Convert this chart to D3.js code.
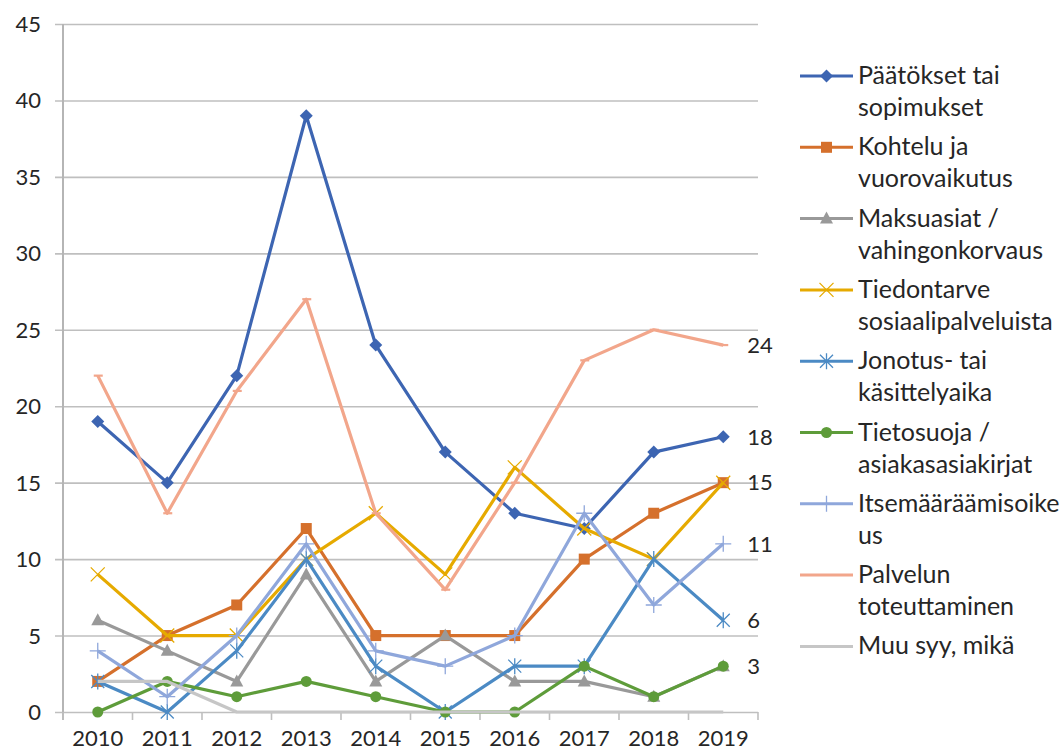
<!DOCTYPE html>
<html>
<head>
<meta charset="utf-8">
<script src="https://cdn.jsdelivr.net/npm/d3@7"></script>
<style>
  html, body { margin: 0; padding: 0; background: #fff; }
  svg { display: block; }
  text { font-family: Lato, "Open Sans", sans-serif; fill: #262626; }
</style>
</head>
<body>
<svg id="chart" width="1062" height="751"></svg>
<script>
// Yearly counts per complaint category
const years = ["2010", "2011", "2012", "2013", "2014", "2015", "2016", "2017", "2018", "2019"];
const yTicks = [0, 5, 10, 15, 20, 25, 30, 35, 40, 45];

const paatokset      = [19, 15, 22, 39, 24, 17, 13, 12, 17, 18];
const kohtelu        = [2, 5, 7, 12, 5, 5, 5, 10, 13, 15];
const maksuasiat     = [6, 4, 2, 9, 2, 5, 2, 2, 1, 3];
const tiedontarve    = [9, 5, 5, 10, 13, 9, 16, 12, 10, 15];
const jonotus        = [2, 0, 4, 10, 3, 0, 3, 3, 10, 6];
const tietosuoja     = [0, 2, 1, 2, 1, 0, 0, 3, 1, 3];
const itsemaaraamis  = [4, 1, 5, 11, 4, 3, 5, 13, 7, 11];
const palvelun       = [22, 13, 21, 27, 13, 8, 15, 23, 25, 24];
const muuSyy         = [2, 2, 0, 0, 0, 0, 0, 0, 0, 0];

const legendLabels = [
  ["Päätökset tai", "sopimukset"],
  ["Kohtelu ja", "vuorovaikutus"],
  ["Maksuasiat /", "vahingonkorvaus"],
  ["Tiedontarve", "sosiaalipalveluista"],
  ["Jonotus- tai", "käsittelyaika"],
  ["Tietosuoja /", "asiakasasiakirjat"],
  ["Itsemääräämisoike", "us"],
  ["Palvelun", "toteuttaminen"],
  ["Muu syy, mikä"]
];

// Series with the end value shown as a label at the right
const labelledSeries = [0, 1, 4, 5, 6, 7];

const series = [
  { values: paatokset,     color: "#3D65B2", marker: "diamond" },
  { values: kohtelu,       color: "#D5702C", marker: "square" },
  { values: maksuasiat,    color: "#999999", marker: "triangle" },
  { values: tiedontarve,   color: "#E6AA00", marker: "x" },
  { values: jonotus,       color: "#4B8AC4", marker: "star" },
  { values: tietosuoja,    color: "#5E9C3A", marker: "circle" },
  { values: itsemaaraamis, color: "#8FA7DB", marker: "plus" },
  { values: palvelun,      color: "#F2A68B", marker: "dash" },
  { values: muuSyy,        color: "#C6C6C6", marker: "none" }
].map((s, i) => ({ ...s, label: legendLabels[i] }));

const svg = d3.select("#chart");
const plotLeft = 63, plotRight = 758, plotTop = 24, plotBottom = 712;

const xBand = d3.scaleBand().domain(years).range([plotLeft, plotRight]).padding(0);
const x = d => xBand(d) + xBand.bandwidth() / 2;
const y = d3.scaleLinear().domain([0, 45]).range([plotBottom, plotTop]);

const gridColor = "#BFBFBF";

// Horizontal gridlines with outward tick stubs and value labels
const yAxis = svg.append("g")
  .attr("transform", `translate(${plotLeft},0)`)
  .call(d3.axisLeft(y).tickValues(yTicks).tickSize(-(plotRight - plotLeft)).tickPadding(0).tickFormat(d3.format("d")));
yAxis.select(".domain").remove();
yAxis.selectAll(".tick line")
  .attr("x1", -8)
  .attr("stroke", gridColor).attr("stroke-width", 1.6);
yAxis.selectAll(".tick text")
  .attr("x", -22).attr("dy", "0.34em")
  .style("font-size", "22px").style("fill", "#262626");

// Vertical axis line
svg.append("line")
  .attr("x1", plotLeft).attr("x2", plotLeft).attr("y1", plotTop).attr("y2", plotBottom + 8)
  .attr("stroke", "#B5B5B5").attr("stroke-width", 2);

// Category tick marks on band boundaries
const boundaries = years.map(d => xBand(d)).concat([plotRight]);
svg.append("g").selectAll("line").data(boundaries).join("line")
  .attr("x1", d => d).attr("x2", d => d)
  .attr("y1", plotBottom).attr("y2", plotBottom + 8)
  .attr("stroke", gridColor).attr("stroke-width", 1.6);

// Category labels
const xAxis = svg.append("g")
  .attr("transform", `translate(0,${plotBottom})`)
  .call(d3.axisBottom(xBand).tickSize(0).tickPadding(0));
xAxis.select(".domain").remove();
xAxis.selectAll(".tick text")
  .attr("y", 34).attr("dy", 0)
  .style("font-size", "22px").style("fill", "#262626");

// Marker drawing helper
function drawMarker(g, type, cx, cy, color) {
  const m = g.append("g").attr("transform", `translate(${cx},${cy})`);
  switch (type) {
    case "diamond":
      m.append("path").attr("d", "M0,-6.5L6.5,0L0,6.5L-6.5,0Z").attr("fill", color);
      break;
    case "square":
      m.append("rect").attr("x", -5.5).attr("y", -5.5).attr("width", 11).attr("height", 11).attr("fill", color);
      break;
    case "triangle":
      m.append("path").attr("d", "M0,-7L6.5,5L-6.5,5Z").attr("fill", color);
      break;
    case "circle":
      m.append("circle").attr("r", 5.5).attr("fill", color);
      break;
    case "x":
      m.append("path").attr("d", "M-7,-7L7,7M-7,7L7,-7").attr("stroke", color).attr("stroke-width", 1.3).attr("fill", "none");
      break;
    case "star":
      m.append("path").attr("d", "M-6.5,-6.5L6.5,6.5M-6.5,6.5L6.5,-6.5M0,-8L0,8").attr("stroke", color).attr("stroke-width", 1.3).attr("fill", "none");
      break;
    case "plus":
      m.append("path").attr("d", "M-8,0L8,0M0,-8L0,8").attr("stroke", color).attr("stroke-width", 1.3).attr("fill", "none");
      break;
    case "dash":
      m.append("path").attr("d", "M-4,0L5,0").attr("stroke", color).attr("stroke-width", 2.2).attr("fill", "none");
      break;
  }
}

const line = d3.line().x((d, i) => x(years[i])).y(d => y(d));

// Series lines with markers
series.forEach(s => {
  const g = svg.append("g");
  g.append("path")
    .attr("d", line(s.values))
    .attr("fill", "none")
    .attr("stroke", s.color)
    .attr("stroke-width", 3.2)
    .attr("stroke-linejoin", "round")
    .attr("stroke-linecap", "butt");
  s.values.forEach((v, i) => drawMarker(g, s.marker, x(years[i]), y(v), s.color));
});

// End-value labels
const lastYear = years[years.length - 1];
svg.append("g").selectAll("text").data(labelledSeries).join("text")
  .attr("x", x(lastYear) + 24)
  .attr("y", i => y(series[i].values[series[i].values.length - 1]))
  .attr("dy", "0.35em")
  .style("font-size", "22px")
  .text(i => series[i].values[series[i].values.length - 1]);

// Legend
const legend = svg.append("g");
const legendStep = 71.3;
series.forEach((s, i) => {
  const cy = 76 + i * legendStep;
  const g = legend.append("g");
  g.append("line")
    .attr("x1", 800).attr("x2", 853).attr("y1", cy).attr("y2", cy)
    .attr("stroke", s.color).attr("stroke-width", 3);
  if (s.marker !== "dash") drawMarker(g, s.marker, 826.5, cy, s.color);
  const t = g.append("text").attr("x", 858).attr("y", cy + 8).style("font-size", "25px");
  s.label.forEach((ln, j) => {
    t.append("tspan").attr("x", 858).attr("dy", j === 0 ? 0 : 32).text(ln);
  });
});
</script>
</body>
</html>
